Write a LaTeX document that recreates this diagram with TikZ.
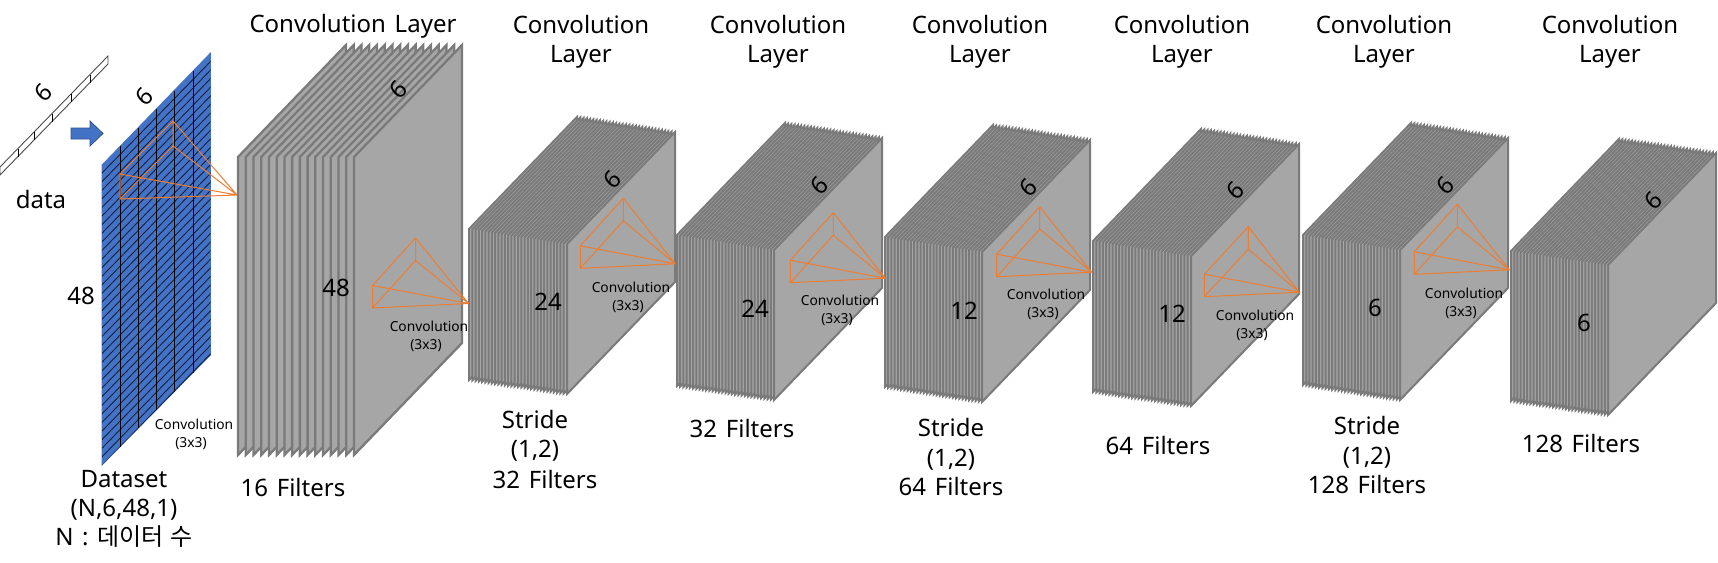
\documentclass[tikz,border=0pt]{standalone}
\usepackage{fontspec}
\setmainfont[WordSpace=1.4]{Noto Sans}
\newfontfamily\krfont[WordSpace=1.3]{Noto Sans CJK KR}
\definecolor{sheetfill}{HTML}{A6A6A6}
\definecolor{sheetline}{HTML}{7A7A7A}
\definecolor{panelblue}{HTML}{4472C4}
\definecolor{pyrorange}{HTML}{ED7D31}
\definecolor{hatchnavy}{HTML}{0F1E40}
\tikzset{
  x=0.5pt,y=-0.5pt,
  sheet/.style={fill=sheetfill,draw=sheetline,line join=miter},
  pyr/.style={draw=pyrorange,line width=0.5pt,line join=round},
  big/.style={font=\fontsize{12}{14.6}\selectfont,inner sep=0pt,align=center,text=black},
  small/.style={font=\fontsize{6.9}{9}\selectfont,inner sep=0pt,align=center,text=black},
  six/.style={big,rotate=45},
}
% front-left x, top y, bottom y; front-right x, top y, bottom y; sheets; stroke
\newcommand{\sheetstack}[8]{%
  \foreach \i in {0,...,\numexpr#7-1\relax}{%
    \pgfmathsetmacro{\fx}{#1+(#4-#1)*\i/(#7-1)}%
    \pgfmathsetmacro{\ft}{#2+(#5-#2)*\i/(#7-1)}%
    \pgfmathsetmacro{\fb}{#3+(#6-#3)*\i/(#7-1)}%
    \draw[sheet,line width=#8] (\fx,\ft) -- ++(108,-112) -- (\fx+108,\fb-112) -- (\fx,\fb) -- cycle;
  }%
}
% lower-left corner x,y ; apex dx,dy ; inner dy ; left dy ; tip dx,dy
\newcommand{\pyramid}[8]{%
  \begin{scope}[shift={(#1,#2)}]
    \coordinate (lb) at (0,0);
    \coordinate (lt) at (0,#6);
    \coordinate (ap) at (#3,#4);
    \coordinate (in) at (#3,#5);
    \coordinate (tip) at (#7,#8);
    \draw[pyr] (lt) -- (lb) -- (tip) -- (lt) -- (ap) -- (tip) -- (in) -- (ap);
    \draw[pyr] (lb) -- (in);
  \end{scope}%
}
\newcommand{\convlabel}[3]{\node[small] (#1) at (#2,#3) {Convolution\\(3x3)\hspace*{3pt}};}
\begin{document}
\begin{tikzpicture}
\useasboundingbox (0,0) rectangle (1718,562);

% input strip
\draw[draw=black!70,fill=white,line width=0.45pt] (0,167) -- (108,56) -- (108,64) -- (0,175) -- cycle;
\foreach \xx in {18,34,52,71,90}{
  \pgfmathsetmacro{\ya}{167-(\xx)*111/108}
  \draw[black,line width=0.45pt] (\xx,\ya) -- (\xx,\ya+8);
}
\node[big] (datalabel) at (41,199) {data};
\node[six] (sixa) at (43,93) {6};

% block arrow
\draw[fill=panelblue,draw=panelblue!70!black,line width=0.4pt]
  (71,128) -- (90,128) -- (90,121) -- (103,133.5) -- (90,146) -- (90,139) -- (71,139) -- cycle;

% input panel
\fill[panelblue,draw=panelblue,line width=0.4pt] (102,165) -- (210.5,53) -- (210.5,355) -- (102,465) -- cycle;
\begin{scope}
  \clip (102,165) -- (210.5,53) -- (210.5,355) -- (102,465) -- cycle;
  \foreach \k in {0,...,36}{
    \draw[hatchnavy,line width=0.42pt] (102,173+8.6*\k) -- ++(109,-112);
  }
\end{scope}
\foreach \xx in {120,138,156,174,193}{
  \pgfmathsetmacro{\ya}{165-(\xx-102)*1.03}
  \pgfmathsetmacro{\yb}{465-(\xx-102)*1.015}
  \draw[black,line width=0.5pt] (\xx,\ya) -- (\xx,\yb);
}
\node[six] (sixb) at (144,97) {6};
\node[big] (h48a) at (81,296) {48};
\convlabel{conva}{194}{434}
\node[big] (dataset) at (124,509) {Dataset\\(N,6,48,1)\\N : {\krfont 데이터 수}};

% stacks
\sheetstack{238}{157}{455}{354}{157}{455}{16}{1.15pt}
\sheetstack{469}{229}{380}{567}{244}{394}{31}{1pt}
\sheetstack{677}{235}{386}{774}{250}{400}{31}{1pt}
\sheetstack{885}{237}{387}{982}{252}{402}{31}{1pt}
\sheetstack{1093}{241}{392}{1191}{256}{406}{31}{1pt}
\sheetstack{1303}{235}{385}{1400}{250}{400}{31}{1pt}
\sheetstack{1511}{251}{401}{1608}{265}{415}{31}{1pt}

% pyramids
\pyramid{120}{199}{53}{-78}{-53}{-25}{117}{-4}
\pyramid{372.5}{308}{43}{-70}{-47.5}{-22.5}{96}{-4.5}
\pyramid{580.3}{268.3}{43}{-70}{-47.5}{-22.5}{95}{-4.5}
\pyramid{790.3}{282.7}{43}{-70}{-47.5}{-22.5}{95}{-4.5}
\pyramid{996.7}{276.7}{43}{-70}{-47.5}{-22.5}{95}{-4.5}
\pyramid{1204.3}{296.7}{44}{-70}{-47.5}{-22.5}{95}{-4.5}
\pyramid{1414.3}{274.3}{43}{-70}{-47.5}{-22.5}{95}{-4.5}

% dimension labels
\node[six] (sixc) at (398,90) {6};
\node[six] (sixd) at (612,180) {6};
\node[six] (sixe) at (819,186) {6};
\node[six] (sixf) at (1028,188) {6};
\node[six] (sixg) at (1235,191) {6};
\node[six] (sixh) at (1445,186) {6};
\node[six] (sixi) at (1653,201) {6};
\node[big] (ha) at (336,288) {48};
\node[big] (hb) at (548,302) {24};
\node[big] (hc) at (755,309) {24};
\node[big] (hd) at (964,311) {12};
\node[big] (he) at (1172,314) {12};
\node[big] (hf) at (1375,308) {6};
\node[big] (hg) at (1584,323) {6};

% convolution labels
\convlabel{convb}{429}{336}
\convlabel{convc}{631}{297}
\convlabel{convd}{840}{310}
\convlabel{conve}{1046}{304}
\convlabel{convf}{1255}{325}
\convlabel{convg}{1464}{303}

% titles
\node[big] (ta) at (353,26) {Convolution Layer};
\node[big] (tb) at (581,42) {Convolution\\Layer};
\node[big] (tc) at (778,42) {Convolution\\Layer};
\node[big] (td) at (980,42) {Convolution\\Layer};
\node[big] (te) at (1182,42) {Convolution\\Layer};
\node[big] (tf) at (1384,42) {Convolution\\Layer};
\node[big] (tg) at (1610,42) {Convolution\\Layer};

% filter labels
\node[big] (fa) at (293,487) {16 Filters};
\node[big] (fb) at (535,436) {Stride\\(1,2)};
\node[big] (fbb) at (545,479) {32 Filters};
\node[big] (fc) at (742,428) {32 Filters};
\node[big] (fd) at (951,457) {Stride\\(1,2)\\64 Filters};
\node[big] (fe) at (1158,445) {64 Filters};
\node[big] (ff) at (1367,455) {Stride\\(1,2)\\128 Filters};
\node[big] (fg) at (1581,443) {128 Filters};
\end{tikzpicture}
\end{document}
